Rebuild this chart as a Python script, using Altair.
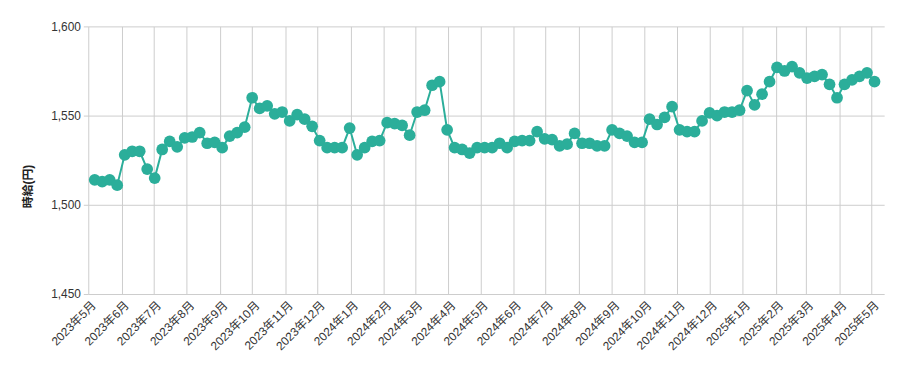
import altair as alt
import pandas as pd

start_date = "2023-05-07"
n_weeks = 105
values = [
    1514, 1513, 1514, 1511, 1528, 1530, 1530, 1520, 1515, 1531,
    1535.5, 1532.5, 1537.5, 1538, 1540.5, 1534.5, 1535, 1532, 1538.5, 1540.5,
    1543.5, 1560, 1554, 1555.5, 1551, 1552, 1547, 1550.5, 1548, 1544,
    1536, 1532, 1532, 1532, 1543, 1528, 1532, 1535.5, 1536, 1546,
    1545.5, 1544.5, 1539, 1552, 1553, 1567, 1569, 1542, 1532, 1531,
    1529, 1532, 1532, 1532, 1534.5, 1532, 1535.5, 1536, 1536, 1541,
    1537, 1536.5, 1533, 1534, 1540, 1534.5, 1534.5, 1533, 1533, 1542,
    1540, 1538.5, 1535, 1535, 1548, 1545, 1549, 1555, 1542, 1541,
    1541, 1547, 1551.5, 1550, 1552, 1552, 1553, 1564, 1556, 1562,
    1569, 1577, 1575, 1577.5, 1574, 1571, 1572, 1573, 1567.5, 1560,
    1567.5, 1570, 1572, 1574, 1569,
]
dates = pd.date_range(start_date, periods=n_weeks, freq="7D").strftime("%Y-%m-%d").tolist()

month_ticks = pd.date_range("2023-05-01", "2025-05-01", freq="MS")
tick_values = [alt.DateTime(year=d.year, month=d.month, date=1, utc=True) for d in month_ticks]
y_ticks = [1450, 1500, 1550, 1600]

df = pd.DataFrame({"date": dates, "value": values})

FONT = "Liberation Sans, Noto Sans CJK JP, sans-serif"
COLOR = "#2bae9a"

x_enc = alt.X(
    "date:T",
    scale=alt.Scale(
        type="utc",
        domain=[
            alt.DateTime(year=2023, month=5, date=1, utc=True),
            alt.DateTime(year=2025, month=5, date=13, utc=True),
        ],
    ),
    axis=alt.Axis(
        values=tick_values,
        labelExpr="utcyear(datum.value) + '年' + (utcmonth(datum.value) + 1) + '月'",
        labelAngle=-45,
        labelAlign="right",
        labelBaseline="middle",
        labelOffset=5,
        labelPadding=9,
        labelOverlap=False,
        labelBound=False,
        ticks=False,
        domain=False,
        grid=True,
        gridColor="#cccccc",
        labelFont=FONT,
        labelFontSize=12,
        labelColor="#333333",
        title=None,
    ),
)
y_enc = alt.Y(
    "value:Q",
    scale=alt.Scale(domain=[1450, 1600], nice=False, zero=False),
    axis=alt.Axis(
        values=y_ticks,
        format=",.0f",
        tickSize=5,
        tickColor="#cccccc",
        labelPadding=3,
        domain=False,
        gridColor="#cccccc",
        labelFont=FONT,
        labelFontSize=12,
        labelColor="#333333",
        title="時給(円)",
        titleFont=FONT,
        titleFontSize=12,
        titleFontWeight="bold",
        titleColor="#222222",
        titleAngle=270,
        titleX=-61,
        titleY=161,
        titleAlign="center",
        titleBaseline="middle",
    ),
)

base = alt.Chart(df).encode(x=x_enc, y=y_enc)
line = base.mark_line(color=COLOR, strokeWidth=2)
points = base.mark_circle(color=COLOR, size=140, opacity=1)

chart = (
    (line + points)
    .properties(
        width=803,
        height=270,
        autosize=alt.AutoSizeParams(type="none"),
        padding={"left": 81, "top": 17, "right": 19, "bottom": 60},
    )
    .configure_view(stroke=None)
)

chart.save("out.html", embed_options={"renderer": "svg", "actions": False})
